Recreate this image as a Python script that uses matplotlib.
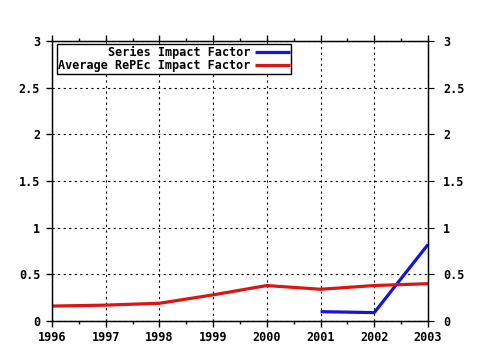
import numpy as np
from matplotlib import pyplot as plt
from matplotlib.ticker import MultipleLocator

years = [1996, 1997, 1998, 1999, 2000, 2001, 2002, 2003]
average_repec = [0.16, 0.17, 0.19, 0.28, 0.38, 0.34, 0.38, 0.40]
series_years = [2001, 2002, 2003]
series_impact = [0.10, 0.09, 0.82]
value_ticks = [0, 0.5, 1, 1.5, 2, 2.5, 3]
value_labels = ["0", "0.5", "1", "1.5", "2", "2.5", "3"]

plt.rcParams["font.family"] = "DejaVu Sans Mono"
plt.rcParams["font.weight"] = "bold"
plt.rcParams["font.size"] = 8.5

fig = plt.figure(figsize=(4.8, 3.5), dpi=100)
ax = fig.add_axes([52 / 480, 29 / 350, 376 / 480, 280 / 350])

ax.plot(series_years, series_impact, color="#1414dc", lw=2.3,
        label="Series Impact Factor", solid_capstyle="butt")
ax.plot(years, average_repec, color="#dc1414", lw=2.3,
        label="Average RePEc Impact Factor", solid_capstyle="butt")

ax.set_xlim(1996, 2003)
ax.set_ylim(0, 3)
ax.xaxis.set_major_locator(MultipleLocator(1))
ax.xaxis.set_minor_locator(MultipleLocator(0.5))

ax.grid(True, which="major", color="black", linestyle=(0, (2, 3)), lw=0.8)
ax.tick_params(axis="both", which="both", color="black", width=1,
               labelsize=8.5)
ax.tick_params(axis="x", which="major", length=4, pad=3, top=True)
ax.tick_params(axis="x", which="minor", length=2, top=True)
for s in ax.spines.values():
    s.set_linewidth(1)

# value axis repeated on the right
ax2 = ax.twinx()
ax2.set_ylim(0, 3)
ax.set_yticks(value_ticks, value_labels)
ax2.set_yticks(value_ticks, value_labels)
ax.tick_params(axis="y", which="major", length=4.5, pad=4)
ax2.tick_params(axis="y", which="major", length=4.5, pad=6.5, labelsize=8.5)

leg = ax.legend(loc="upper left", bbox_to_anchor=(0.012, 0.99),
                markerfirst=False, handlelength=2.9, handletextpad=0.4,
                labelspacing=0.05, borderpad=0.15, borderaxespad=0,
                fancybox=False, framealpha=1, edgecolor="black",
                prop={"family": "DejaVu Sans Mono", "weight": "bold",
                      "size": 8.5})
leg.get_frame().set_linewidth(1)

fig.savefig("out.png", dpi=100, facecolor="white")
